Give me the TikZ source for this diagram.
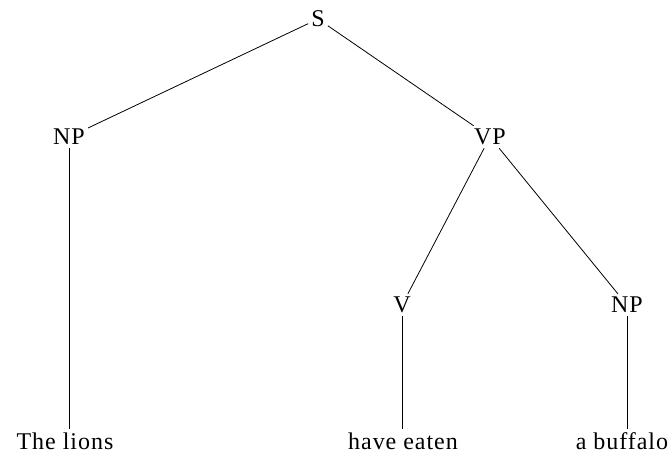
\documentclass[tikz,border=0pt]{standalone}
\usepackage{fontspec}
\setmainfont[LetterSpace=4]{Liberation Serif}
\usetikzlibrary{positioning}

\begin{document}
\begin{tikzpicture}[x=1pt,y=-1pt,font=\fontsize{24}{28}\selectfont,
        t/.style={inner sep=3pt},
        e/.style={line width=0.8pt}]
        \useasboundingbox (0,0) rectangle (671,456);
        \node[t] (s) at (318,19) {S};
        \node[t] (np) at (69,137) {NP};
        \node[t] (vp) at (490,137) {VP};
        \node[t] (v) at (402,305) {V};
        \node[t] (npb) at (627,305) {NP};
        \node[t] (lions) at (65,441) {The lions};
        \node[t] (eaten) at (403,441) {have eaten};
        \node[t] (buff) at (622,441) {a buffalo};
        \draw[e] (s) -- (np); \draw[e] (s) -- (vp);
        \draw[e] (vp) -- (v); \draw[e] (vp) -- (npb);
        \draw[e] (np) -- (np |- lions.north);
        \draw[e] (v) -- (v |- eaten.north);
        \draw[e] (npb) -- (npb |- buff.north);
      \end{tikzpicture}
\end{document}
